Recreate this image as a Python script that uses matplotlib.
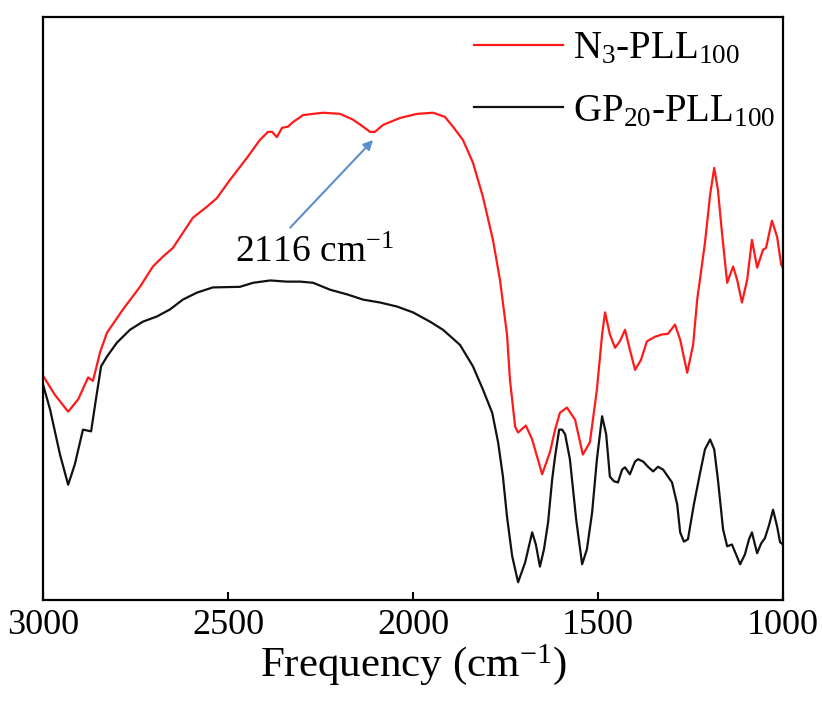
import matplotlib
matplotlib.use("Agg")
import matplotlib.pyplot as plt

plt.rcParams["font.family"] = ["Liberation Serif", "DejaVu Serif"]
plt.rcParams["mathtext.fontset"] = "custom"
plt.rcParams["mathtext.rm"] = "Liberation Serif"
plt.rcParams["mathtext.it"] = "Liberation Serif"

# FTIR spectra, transmittance in arbitrary units
wn_n3 = [3000, 2968, 2932, 2905, 2878, 2865, 2854, 2846, 2827, 2784, 2738, 2703,
         2676, 2649, 2622, 2595, 2557, 2530, 2495, 2449, 2414, 2392, 2381, 2368,
         2354, 2338, 2324, 2297, 2243, 2197, 2162, 2135, 2116, 2103, 2081, 2035,
         1989, 1946, 1914, 1892, 1865, 1838, 1811, 1784, 1765, 1746, 1738, 1724,
         1716, 1695, 1678, 1651, 1630, 1616, 1603, 1584, 1562, 1541, 1522, 1503,
         1489, 1481, 1468, 1454, 1441, 1427, 1414, 1400, 1384, 1368, 1346, 1327,
         1311, 1292, 1278, 1259, 1243, 1232, 1211, 1197, 1186, 1176, 1165, 1151,
         1135, 1124, 1111, 1097, 1084, 1070, 1054, 1046, 1030, 1016, 1005, 1000]
t_n3 = [38.2, 34.9, 32.0, 34.1, 37.9, 37.3, 40.1, 42.2, 45.6, 49.6, 53.5, 57.0,
        58.7, 60.2, 62.8, 65.4, 67.3, 68.8, 71.9, 75.7, 78.8, 80.2, 80.2, 79.3,
        80.9, 81.1, 81.9, 83.1, 83.5, 83.3, 82.3, 81.1, 80.2, 80.2, 81.4, 82.6,
        83.3, 83.5, 82.8, 81.1, 78.8, 74.9, 69.0, 61.6, 54.7, 45.3, 37.5, 29.4,
        28.4, 29.6, 27.2, 21.2, 25.0, 28.9, 31.8, 32.7, 30.6, 24.6, 26.7, 35.8,
        45.3, 49.1, 45.3, 43.0, 44.1, 46.1, 42.7, 39.2, 40.9, 44.1, 44.9, 45.3,
        45.4, 47.0, 44.4, 38.7, 43.5, 51.3, 61.1, 69.4, 74.0, 70.2, 62.8, 54.2,
        57.0, 54.7, 50.8, 54.7, 61.6, 56.8, 59.9, 60.2, 64.9, 62.1, 57.3, 56.8]

wn_gp = [3000, 2981, 2954, 2932, 2914, 2892, 2870, 2857, 2843, 2827, 2800, 2765,
         2730, 2692, 2657, 2622, 2584, 2541, 2468, 2432, 2386, 2341, 2305, 2270,
         2224, 2178, 2135, 2089, 2043, 2000, 1954, 1919, 1873, 1838, 1811, 1786,
         1770, 1757, 1746, 1732, 1716, 1697, 1678, 1668, 1657, 1646, 1635, 1624,
         1616, 1605, 1597, 1589, 1576, 1559, 1543, 1530, 1516, 1503, 1489, 1478,
         1468, 1457, 1446, 1435, 1427, 1414, 1400, 1392, 1378, 1365, 1351, 1338,
         1324, 1311, 1300, 1286, 1278, 1268, 1257, 1241, 1224, 1211, 1197, 1186,
         1176, 1162, 1151, 1138, 1127, 1116, 1103, 1092, 1084, 1076, 1070, 1059,
         1049, 1038, 1027, 1016, 1008, 1000]
t_gp = [36.7, 32.4, 24.6, 19.4, 22.9, 28.9, 28.6, 34.1, 39.8, 41.5, 43.9, 46.1,
        47.5, 48.4, 49.6, 51.3, 52.5, 53.4, 53.5, 54.2, 54.6, 54.4, 54.4, 54.2,
        53.0, 52.2, 51.3, 50.8, 50.1, 49.1, 47.5, 46.1, 43.5, 39.8, 35.8, 31.8,
        26.7, 20.8, 13.9, 7.1, 2.6, 6.0, 11.2, 9.1, 5.3, 8.3, 12.9, 20.3,
        24.3, 28.9, 28.9, 28.1, 23.8, 13.4, 5.7, 8.3, 14.6, 23.8, 31.2, 28.1,
        20.8, 20.0, 19.8, 22.0, 22.4, 21.2, 23.4, 23.8, 23.4, 22.5, 21.7, 22.5,
        22.0, 20.8, 19.8, 16.0, 11.2, 9.6, 10.0, 16.0, 21.5, 25.5, 27.2, 25.5,
        20.3, 11.7, 8.8, 9.1, 7.4, 5.7, 7.4, 10.0, 11.2, 9.1, 7.6, 9.3,
        10.2, 12.4, 15.1, 12.2, 9.5, 9.1]

labels = [r"N$_3$-PLL$_{100}$", r"GP$_{20}$-PLL$_{100}$"]
x_ticks = [3000, 2500, 2000, 1500, 1000]
azide_peak = (2108, 78.8)
azide_label = r"2116 cm$^{-1}$"


def main():
    fig = plt.figure(figsize=(8.22, 7.07), dpi=100)
    ax = fig.add_axes([0.0523, 0.151, 0.9003, 0.825])

    ax.plot(wn_n3, t_n3, color="#ff1a1a", lw=1.6, label=labels[0])
    ax.plot(wn_gp, t_gp, color="#111111", lw=1.6, label=labels[1])

    ax.set_xlim(3000, 1000)
    ax.set_ylim(-0.5, 100)
    ax.set_xticks(x_ticks)
    ax.set_xticklabels([str(t) for t in x_ticks])
    ax.set_yticks([])
    ax.tick_params(axis="x", direction="in", length=6, width=1.5,
                   labelsize=26, pad=6)
    for s in ax.spines.values():
        s.set_linewidth(1.6)

    ax.set_xlabel(r"Frequency (cm$^{-1}$)", fontsize=31, labelpad=0)

    # arrow pointing at the azide band
    ax.annotate("", xy=azide_peak, xytext=(2332, 63.7),
                arrowprops=dict(arrowstyle="-|>", color="#5b8fcc", lw=1.5,
                                mutation_scale=14, shrinkA=0, shrinkB=0))
    ax.text(2481, 57.7, azide_label, fontsize=27, ha="left", va="baseline")

    ax.legend(loc="upper right", frameon=False, fontsize=28,
              handlelength=2.3, handletextpad=0.25, labelspacing=0.65,
              borderpad=0.1, borderaxespad=0.1,
              bbox_to_anchor=(1.0, 0.99))

    fig.savefig("out.png", dpi=100)


if __name__ == "__main__":
    main()
